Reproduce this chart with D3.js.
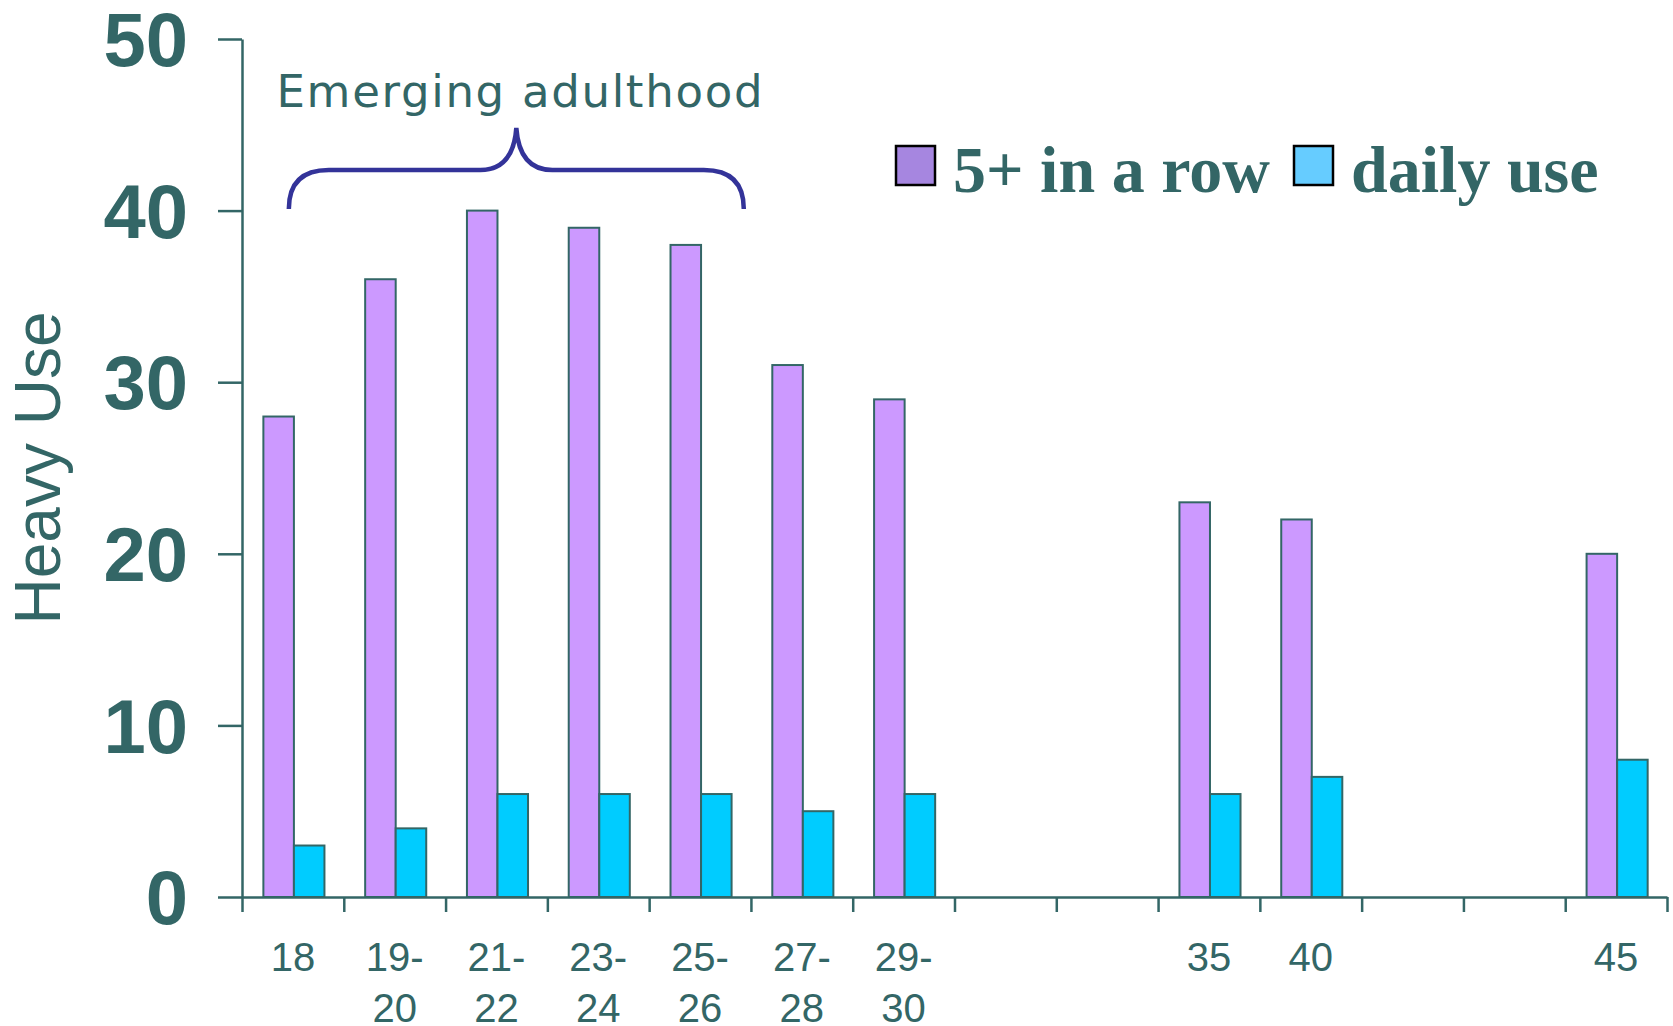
<!DOCTYPE html>
<meta charset="utf-8">
<script src="https://d3js.org/d3.v7.min.js"></script>
<style>
  body { margin: 0; background: #fff; }
</style>
<div id="my_dataviz"></div>
<script>
  // age groups (gaps keep the spacing of the original axis)
  var categories = ["18", "19-20", "21-22", "23-24", "25-26", "27-28", "29-30", "gap1", "gap2", "35", "40", "gap3", "gap4", "45"];
  var tickLabels = [["18"], ["19-", "20"], ["21-", "22"], ["23-", "24"], ["25-", "26"], ["27-", "28"], ["29-", "30"], [], [], ["35"], ["40"], [], [], ["45"]];
  var fiveInRow = [28, 36, 40, 39, 38, 31, 29, null, null, 23, 22, null, null, 20];
  var dailyUse = [3, 4, 6, 6, 6, 5, 6, null, null, 6, 7, null, null, 8];
  var seriesNames = ["5+ in a row", "daily use"];
  var yTicks = [0, 10, 20, 30, 40, 50];

  var teal = "#336666";
  var barColors = ["#CC99FF", "#00CCFF"];
  var legendColors = ["#A686E0", "#66CCFF"];

  var W = 1673, H = 1026;
  var plotLeft = 242, plotRight = 1667, plotTop = 39, plotBottom = 897;

  var svg = d3.select("#my_dataviz").append("svg").attr("width", W).attr("height", H);

  var x = d3.scaleBand().domain(categories).range([plotLeft, plotRight]).padding(0);
  var xSub = d3.scaleBand().domain(seriesNames).range([x.bandwidth() * 0.21, x.bandwidth() * 0.81]);
  var xIdx = d3.scaleLinear().domain([0, categories.length]).range([plotLeft, plotRight]);
  var y = d3.scaleLinear().domain([0, 50]).range([plotBottom, plotTop]);

  // bars
  var rows = [];
  categories.forEach(function(c, i) {
    if (fiveInRow[i] != null) rows.push({cat: c, s: 0, v: fiveInRow[i]});
    if (dailyUse[i] != null) rows.push({cat: c, s: 1, v: dailyUse[i]});
  });
  svg.append("g").selectAll("rect").data(rows).enter().append("rect")
    .attr("x", function(d) { return x(d.cat) + xSub(seriesNames[d.s]); })
    .attr("y", function(d) { return y(d.v); })
    .attr("width", xSub.bandwidth())
    .attr("height", function(d) { return y(0) - y(d.v); })
    .attr("fill", function(d) { return barColors[d.s]; })
    .attr("stroke", teal).attr("stroke-width", 2);

  // y axis
  var yAxis = svg.append("g").attr("transform", "translate(" + plotLeft + ",0)")
    .call(d3.axisLeft(y).tickValues(yTicks).tickSize(24).tickSizeOuter(0).tickPadding(30));
  yAxis.selectAll("line, path").attr("stroke", teal).attr("stroke-width", 2.5);
  yAxis.selectAll("text").attr("fill", teal).style("font-family", "Arial, 'Liberation Sans', sans-serif")
    .style("font-size", "76px").style("font-weight", "bold").attr("dy", "0.35em");

  // x axis (ticks on band boundaries)
  var xAxis = svg.append("g").attr("transform", "translate(0," + plotBottom + ")")
    .call(d3.axisBottom(xIdx).tickValues(d3.range(categories.length + 1)).tickFormat("").tickSize(15).tickSizeOuter(0));
  xAxis.selectAll("line, path").attr("stroke", teal).attr("stroke-width", 2.5);

  // x labels
  var lab = svg.append("g").selectAll("text").data(categories).enter().append("text")
    .attr("text-anchor", "middle").attr("fill", teal)
    .style("font-family", "Arial, 'Liberation Sans', sans-serif").style("font-size", "40px");
  lab.each(function(c, i) {
    var t = d3.select(this);
    tickLabels[i].forEach(function(s, j) {
      t.append("tspan").attr("x", x(c) + x.bandwidth() / 2).attr("y", 971 + j * 51).text(s);
    });
  });

  // y title
  svg.append("text").attr("transform", "translate(60," + ((plotTop + plotBottom) / 2) + ") rotate(-90)")
    .attr("text-anchor", "middle").attr("fill", teal)
    .style("font-family", "Arial, 'Liberation Sans', sans-serif").style("font-size", "64px")
    .text("Heavy Use");

  // brace over emerging adulthood
  var bx0 = x("18") + x.bandwidth() * 0.46;
  var bx1 = x("25-26") + x.bandwidth() * 0.93;
  var bm = (bx0 + bx1) / 2;
  var by = 170, byEnd = 209, byTip = 128, r = 40;
  var brace = d3.path();
  brace.moveTo(bx0, byEnd);
  brace.quadraticCurveTo(bx0, by, bx0 + r, by);
  brace.lineTo(bm - 36, by);
  brace.quadraticCurveTo(bm - 3, by, bm, byTip);
  brace.quadraticCurveTo(bm + 3, by, bm + 36, by);
  brace.lineTo(bx1 - r, by);
  brace.quadraticCurveTo(bx1, by, bx1, byEnd);
  svg.append("path").attr("d", brace.toString()).attr("fill", "none")
    .attr("stroke", "#333399").attr("stroke-width", 4.5);

  svg.append("text").attr("x", bm + 4).attr("y", 107).attr("text-anchor", "middle").attr("fill", teal)
    .style("font-family", "'DejaVu Sans', Verdana, sans-serif").style("font-size", "45px")
    .style("letter-spacing", "1.7px")
    .text("Emerging adulthood");

  // legend
  var legendX = [896, 1294];
  var legend = svg.append("g").selectAll("g").data(seriesNames).enter().append("g")
    .attr("transform", function(d, i) { return "translate(" + legendX[i] + ",146)"; });
  legend.append("rect").attr("width", 39).attr("height", 39)
    .attr("fill", function(d, i) { return legendColors[i]; })
    .attr("stroke", "#000").attr("stroke-width", 2.5);
  legend.append("text").attr("x", 57).attr("y", 46).attr("fill", teal)
    .style("font-family", "'Times New Roman', 'Liberation Serif', serif").style("font-size", "66px")
    .style("font-weight", "bold")
    .text(function(d) { return d; });
</script>
